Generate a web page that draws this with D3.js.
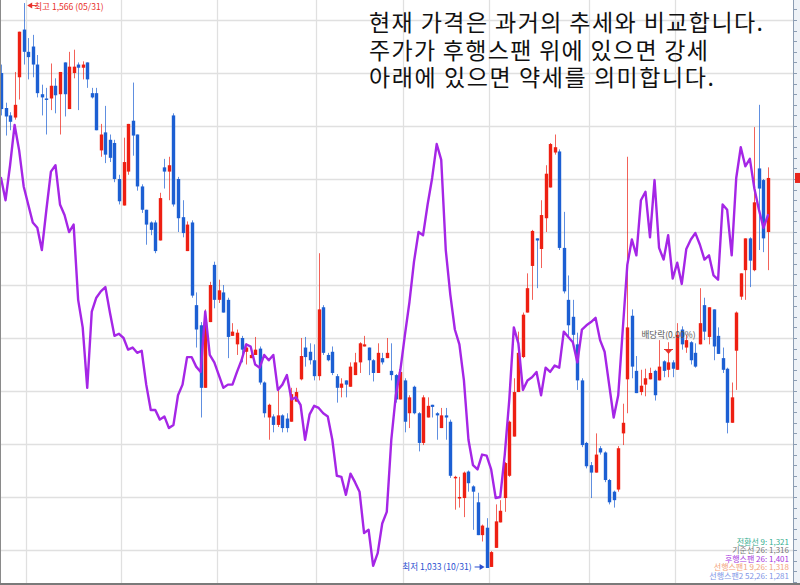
<!DOCTYPE html>
<html><head><meta charset="utf-8">
<script src="https://cdn.jsdelivr.net/npm/d3@7"></script>
<style>html,body{margin:0;padding:0;background:#fff;} svg{display:block;}</style>
</head><body><svg id="c" width="800" height="585"></svg>
<script>
// ---- data (daily candles, price in KRW) ----
const openP = [
1500,1467,1460,1458,1496,1541,1520,1525,1508,1480,
1476,1476,1488,1480,1510,1466,1500,1508,1505,1510,
1481,1481,1427,1444,1437,1434,1400,1375,1407,1455,
1442,1393,1371,1359,1359,1342,1411,1407,1460,1400,
1364,1332,1359,1281,1262,1203,1265,1319,1286,1293,
1286,1252,1244,1250,1237,1231,1234,1240,1208,1175,
1176,1168,1177,1174,1171,1190,1211,1241,1237,1229,
1214,1279,1234,1237,1214,1203,1210,1204,1215,1227,
1242,1241,1229,1217,1231,1231,1219,1215,1192,1210,
1179,1204,1179,1151,1175,1187,1179,1165,1177,1171,
1118,1099,1099,1124,1110,1095,1064,1071,1034,1052,
1076,1099,1120,1157,1199,1232,1274,1318,1344,1334,
1363,1392,1425,1426,1335,1286,1270,1244,1210,1151,
1130,1123,1146,1142,1116,1105,1107,1160,1211,1271,
1219,1199,1206,1211,1219,1210,1228,1220,1227,1220,
1258,1241,1246,1236,1244,1281,1251,1277,1252,1231,
1221,1170,1238,1289,1314,1344,1314,1410,1399,1350];
const highP = [
1508,1472,1463,1501,1539,1566,1533,1536,1517,1489,
1486,1509,1495,1501,1510,1520,1522,1510,1511,1510,
1486,1486,1452,1469,1442,1437,1404,1439,1452,1491,
1442,1395,1371,1360,1361,1387,1419,1421,1462,1402,
1380,1360,1361,1293,1265,1277,1303,1322,1305,1300,
1288,1264,1258,1252,1245,1239,1251,1242,1209,1188,
1178,1203,1178,1179,1203,1203,1250,1251,1245,1244,
1330,1281,1236,1242,1216,1212,1210,1227,1236,1246,
1252,1241,1230,1245,1236,1250,1245,1216,1220,1212,
1196,1205,1180,1196,1194,1187,1180,1184,1184,1173,
1120,1119,1124,1125,1111,1104,1074,1080,1049,1093,
1097,1133,1172,1212,1256,1274,1311,1352,1344,1380,
1413,1434,1442,1428,1369,1309,1286,1255,1212,1152,
1133,1160,1148,1143,1117,1106,1148,1188,1421,1277,
1233,1220,1221,1222,1220,1248,1229,1246,1229,1264,
1261,1253,1247,1245,1297,1288,1279,1277,1260,1241,
1222,1208,1275,1311,1344,1345,1449,1470,1400,1411];
const lowP = [
1460,1441,1446,1456,1475,1508,1494,1496,1477,1460,
1442,1465,1462,1442,1459,1466,1495,1465,1494,1486,
1476,1446,1421,1415,1416,1397,1376,1375,1404,1422,
1389,1368,1338,1347,1330,1342,1391,1380,1374,1350,
1345,1332,1288,1241,1175,1203,1265,1278,1283,1274,
1231,1252,1234,1227,1225,1231,1234,1206,1175,1154,
1161,1166,1161,1161,1171,1190,1210,1223,1225,1210,
1210,1234,1228,1215,1189,1194,1194,1204,1215,1217,
1242,1215,1209,1217,1225,1231,1210,1189,1192,1161,
1165,1178,1143,1149,1175,1175,1154,1165,1154,1118,
1088,1090,1081,1105,1069,1064,1058,1033,1034,1052,
1076,1086,1119,1157,1199,1231,1274,1286,1297,1316,
1350,1392,1423,1333,1292,1251,1246,1201,1147,1127,
1099,1123,1140,1114,1093,1090,1105,1149,1179,1212,
1198,1196,1195,1211,1191,1210,1213,1213,1213,1220,
1239,1236,1225,1222,1244,1248,1244,1229,1235,1217,
1160,1170,1201,1286,1286,1298,1313,1333,1331,1314];
const closeP = [
1466,1459,1454,1470,1539,1520,1515,1508,1481,1477,
1475,1488,1479,1501,1480,1506,1506,1505,1508,1494,
1477,1446,1442,1423,1420,1400,1379,1416,1452,1441,
1393,1371,1357,1352,1332,1382,1407,1413,1376,1363,
1349,1357,1290,1258,1203,1265,1300,1286,1295,1274,
1251,1256,1255,1239,1241,1234,1239,1208,1179,1187,
1168,1177,1165,1165,1197,1199,1233,1232,1229,1214,
1277,1236,1229,1217,1203,1207,1206,1223,1227,1245,
1244,1229,1217,1236,1227,1236,1215,1192,1218,1171,
1194,1179,1151,1194,1186,1185,1177,1177,1175,1120,
1119,1100,1123,1113,1105,1064,1073,1033,1048,1077,
1087,1132,1171,1199,1236,1272,1297,1351,1342,1366,
1405,1433,1430,1335,1294,1262,1253,1210,1149,1129,
1123,1140,1142,1116,1095,1097,1146,1170,1260,1223,
1198,1205,1212,1217,1196,1223,1219,1227,1221,1253,
1244,1248,1229,1223,1264,1256,1279,1242,1235,1220,
1170,1194,1274,1311,1344,1323,1378,1391,1344,1401];
// 후행스팬 (lagging span) as drawn
const lagging = [
1401,1380,1413,1451,1427,1393,1376,1359,1354,1333,
1371,1407,1413,1376,1366,1350,1357,1286,1260,1203,
1275,1288,1294,1298,1274,1252,1254,1250,1239,1241,
1236,1238,1206,1182,1182,1173,1176,1165,1168,1196,
1206,1232,1232,1223,1218,1275,1234,1227,1215,1203,
1206,1206,1218,1229,1244,1242,1225,1222,1234,1229,
1234,1201,1206,1215,1192,1194,1187,1154,1178,1186,
1184,1179,1176,1154,1120,1119,1102,1122,1114,1105,
1066,1069,1035,1047,1075,1086,1154,1196,1220,1253,
1284,1322,1350,1347,1376,1401,1433,1418,1333,1291,
1258,1244,1210,1154,1130,1126,1140,1139,1126,1099,
1100,1140,1192,1260,1245,1201,1210,1213,1218,1196,
1222,1218,1224,1222,1256,1251,1246,1227,1258,1262,
1265,1269,1248,1237,1206,1175,1196,1258,1319,1343,
1328,1380,1388,1345,1399,1335,1324,1347,1306,1321,
1301,1334,1343,1349,1338,1324,1328,1309,1305,1376,
1371,1328,1401,1430,1412,1419,1391,1371,1354,1366];
const monthStarts = [6, 27, 48, 70, 89, 108, 130, 149];
const gridPrices = d3.range(1050, 1551, 50);
const axisTickPrices = d3.range(1020, 1570, 10);
const noteLines = ["현재 가격은 과거의 추세와 비교합니다.", "주가가 후행스팬 위에 있으면 강세", "아래에 있으면 약세를 의미합니다."];
const legendLabels = ["전환선 9: 1,321", "기준선 26: 1,316", "후행스팬 26: 1,401", "선행스팬1 9,26: 1,318", "선행스팬2 52,26: 1,281"];
const highLabel = "최고 1,566 (05/31)", highIdx = 5;
const lowLabel = "최저 1,033 (10/31)", lowIdx = 107;
const exDivLabel = "배당락(0.00%)", exDivIdx = 147;

// ---- layout / styles ----
const legendColors = ["#35ae90", "#777777", "#a83ae0", "#f3a47c", "#7f95e6"];
const RED = "#ee1f12", BLUE = "#1c5fd3", PURPLE = "#a526e6";
const FONT = "'Noto Sans CJK KR','Noto Sans',sans-serif";
const svg = d3.select("#c");
const plotRight = 793, plotBottom = 584;
const n = closeP.length;
const x = d3.scaleLinear().domain([0, n - 1]).range([1, 768]);
const y = d3.scaleLinear().domain([1017.9, 1568.9]).range([plotBottom, 0]);

svg.append("rect").attr("width", 800).attr("height", 585).attr("fill", "#fff");

// gridlines
svg.append("g").selectAll("line").data(gridPrices).join("line")
  .attr("x1", 0).attr("x2", plotRight)
  .attr("y1", d => Math.round(y(d)) + 0.5).attr("y2", d => Math.round(y(d)) + 0.5)
  .attr("stroke", "#e0e0e0").attr("stroke-width", 1.3);
svg.append("g").selectAll("line").data(monthStarts).join("line")
  .attr("x1", d => Math.round(x(d - 0.5)) + 0.5).attr("x2", d => Math.round(x(d - 0.5)) + 0.5)
  .attr("y1", 0).attr("y2", plotBottom)
  .attr("stroke", "#e0e0e0").attr("stroke-width", 1.3);

// right axis strip
svg.append("rect").attr("x", plotRight).attr("y", 0).attr("width", 800 - plotRight).attr("height", plotBottom).attr("fill", "#eef2f7");
svg.append("line").attr("x1", plotRight + 0.5).attr("x2", plotRight + 0.5).attr("y1", 0).attr("y2", plotBottom).attr("stroke", "#8c9db3");
svg.append("g").selectAll("line").data(axisTickPrices).join("line")
  .attr("x1", plotRight + 1).attr("x2", plotRight + 4)
  .attr("y1", d => Math.round(y(d)) + 0.5).attr("y2", d => Math.round(y(d)) + 0.5)
  .attr("stroke", "#8c9db3");

// candles
const idx = d3.range(n);
const cg = svg.append("g");
cg.selectAll("line").data(idx).join("line")
  .attr("x1", i => Math.round(x(i)) + 0.5).attr("x2", i => Math.round(x(i)) + 0.5)
  .attr("y1", i => y(highP[i])).attr("y2", i => y(lowP[i]))
  .attr("stroke", i => closeP[i] >= openP[i] ? RED : BLUE)
  .attr("stroke-opacity", 0.7).attr("stroke-width", 1);
cg.selectAll("rect").data(idx).join("rect")
  .attr("x", i => Math.round(x(i)) + 0.5 - 1.7).attr("width", 3.4)
  .attr("y", i => y(Math.max(openP[i], closeP[i])))
  .attr("height", i => Math.max(1.5, Math.abs(y(openP[i]) - y(closeP[i]))))
  .attr("fill", i => closeP[i] >= openP[i] ? RED : BLUE);

// lagging span
svg.append("path").datum(lagging)
  .attr("d", d3.line().x((d, i) => x(i)).y(d => y(d)))
  .attr("fill", "none").attr("stroke", PURPLE).attr("stroke-width", 2.4)
  .attr("stroke-linejoin", "round").attr("stroke-linecap", "round");

// border lines
svg.append("line").attr("x1", 0.5).attr("x2", 0.5).attr("y1", 0).attr("y2", plotBottom).attr("stroke", "#8a8a8a");
svg.append("line").attr("x1", 0).attr("x2", 800).attr("y1", plotBottom).attr("y2", plotBottom).attr("stroke", "#7a7a7a").attr("stroke-width", 2);

// high annotation
const hx = x(highIdx) + 3.5, hy = y(highP[highIdx]) + 2.5;
svg.append("path").attr("d", `M${hx},${hy} l5,-3 v6 z`).attr("fill", "#e8312a");
svg.append("line").attr("x1", hx + 4).attr("x2", hx + 10).attr("y1", hy).attr("y2", hy).attr("stroke", "#e8312a");
svg.append("text").attr("x", hx + 7).attr("y", hy + 4).text(highLabel)
  .attr("font-family", FONT).attr("font-size", 8.6).attr("fill", "#e8312a");

// low annotation
const lx = x(lowIdx) - 2, ly = y(lowP[lowIdx]) - 1;
svg.append("path").attr("d", `M${lx},${ly} l-5,-3 v6 z`).attr("fill", "#2a4fd0");
svg.append("line").attr("x1", lx - 10).attr("x2", lx - 4).attr("y1", ly).attr("y2", ly).attr("stroke", "#2a4fd0");
svg.append("text").attr("x", lx - 13).attr("y", ly + 3.2).attr("text-anchor", "end").text(lowLabel)
  .attr("font-family", FONT).attr("font-size", 8.6).attr("fill", "#2a4fd0");

// ex-dividend marker
const ex = Math.round(x(exDivIdx)) + 0.5;
svg.append("text").attr("x", ex).attr("y", 338).attr("text-anchor", "middle").text(exDivLabel)
  .attr("font-family", FONT).attr("font-size", 8.6).attr("fill", "#555");
svg.append("line").attr("x1", ex - 4.5).attr("x2", ex + 4.5).attr("y1", 349.5).attr("y2", 349.5).attr("stroke", "#e8312a");
svg.append("path").attr("d", `M${ex - 3.5},350 h7 l-3.5,4 z`).attr("fill", "#e8312a");

// current price box
svg.append("rect").attr("x", plotRight + 2).attr("y", y(closeP[n - 1]) - 5).attr("width", 5).attr("height", 10).attr("fill", "#e8261c");

// explanatory note
const noteWidths = [394, 339, 345], noteY = [31, 59, 86];
svg.append("g").selectAll("text").data(noteLines).join("text")
  .attr("x", 369).attr("y", (d, i) => noteY[i]).text(d => d)
  .attr("textLength", (d, i) => noteWidths[i]).attr("lengthAdjust", "spacing")
  .attr("font-family", FONT).attr("font-size", 23).attr("fill", "#111");

// legend
svg.append("g").selectAll("text").data(legendLabels).join("text")
  .attr("x", 789).attr("y", (d, i) => 544.5 + i * 8.6).attr("text-anchor", "end").text(d => d)
  .attr("font-family", FONT).attr("font-size", 8).attr("fill", (d, i) => legendColors[i]);
</script></body></html>
